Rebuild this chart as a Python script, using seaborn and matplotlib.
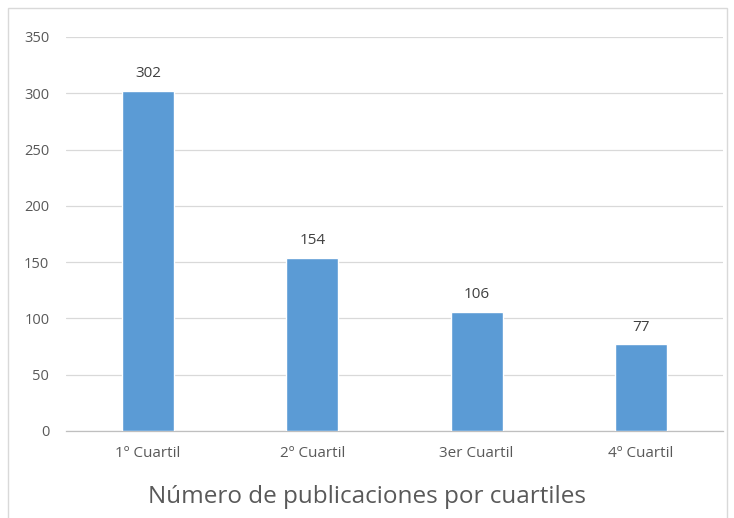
import matplotlib
matplotlib.use("Agg")
from matplotlib import pyplot as plt
from matplotlib.patches import Rectangle
import seaborn as sns
import pandas as pd

categorias = ["1º Cuartil", "2º Cuartil", "3er Cuartil", "4º Cuartil"]
publicaciones = [302, 154, 106, 77]
titulo = "Número de publicaciones por cuartiles"

df = pd.DataFrame({"cuartil": categorias, "n": publicaciones})

sns.set_style("white")
plt.rcParams['font.family'] = ['Open Sans', 'DejaVu Sans']

fig = plt.figure(figsize=(7.34, 5.18), dpi=100)
ax = fig.add_axes([66/734, 1-431/518, (723-66)/734, (431-37)/518])

sns.barplot(data=df, x="cuartil", y="n", color="#5b9bd5", width=0.316,
            saturation=1, ax=ax, zorder=3)

ax.set_ylim(0, 350)
ax.set_yticks(range(0, 351, 50))
ax.set_xlim(-0.5, 3.5)
ax.yaxis.grid(True, color="#d9d9d9", linewidth=0.9, zorder=0)
ax.set_axisbelow(True)
for s in ["top", "right", "left"]:
    ax.spines[s].set_visible(False)
ax.spines["bottom"].set_color("#bfbfbf")
ax.spines["bottom"].set_linewidth(0.9)
ax.tick_params(axis="both", length=0, labelcolor="#595959")
ax.tick_params(axis="x", labelsize=11, pad=11)
ax.tick_params(axis="y", labelsize=10.5, pad=12)
ax.set_xlabel("")
ax.set_ylabel("")

# title sits under the plot, centred on the whole chart box
fig.text(367/734, 1-497/518, titulo, fontsize=17.5, color="#595959",
         ha="center", va="center")

for c in ax.containers:
    ax.bar_label(c, padding=7, fontsize=11, color="#404040")

fig.patches.append(Rectangle((8/734, -0.1), (727-8)/734, 1.1-8/518,
                             transform=fig.transFigure, fill=False,
                             edgecolor="#d9d9d9", linewidth=1))

plt.savefig("out.png", dpi=100)
